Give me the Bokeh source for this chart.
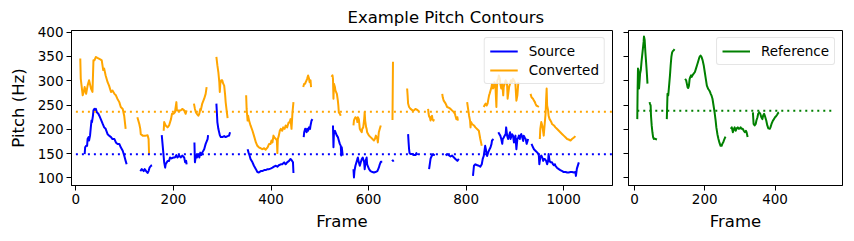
import numpy as np
from bokeh.plotting import figure
from bokeh.layouts import row
from bokeh.models import Range1d, FixedTicker, Legend, LegendItem
from bokeh.embed import file_html
from bokeh.resources import INLINE

# ---------------- data (frame index, pitch in Hz) ----------------
source_frames = [
    [18, 19, 21, 23, 24, 26, 27, 29, 31, 32, 33, 35, 36, 38, 39, 41, 43, 46, 48, 51, 55, 58, 61, 65, 68, 72, 75, 79, 82, 85, 89, 92, 96, 99, 102, 104],
    [132, 135, 139, 141, 144, 147, 149, 151, 154, 156],
    [176, 181, 183, 184, 188, 191, 193, 196, 200, 203, 206, 208, 212, 215, 218, 222, 224, 226, 227],
    [243, 244, 246, 248, 251, 253, 255, 257, 259, 263, 266, 270, 271],
    [288, 289, 290, 292, 295, 297, 300, 304, 307, 311, 314, 316],
    [352, 354, 356, 358, 362, 365, 369, 372, 375, 379, 382, 386, 389, 393, 396, 399, 403, 406, 410, 413, 416, 420, 423, 427, 430, 433, 437, 440, 442, 445, 446],
    [467, 468, 470, 471, 473, 474, 476, 478, 480, 481, 483, 485],
    [527, 528, 529, 531, 532, 535, 537, 539, 541, 543, 544, 545, 547],
    [569, 570, 571, 573, 576, 577, 578, 580, 582, 584, 586, 588, 591, 592, 594, 596, 597, 601, 604, 608, 611, 614, 618, 621, 623, 625, 628],
    [648, 650, 652],
    [681, 682, 683, 684, 686, 690, 693, 696, 698, 700],
    [724, 725, 726, 727, 728, 730, 732, 734, 735],
    [758, 761, 765, 768, 771, 775, 778, 782, 785],
    [814, 816, 819, 823, 826, 829, 832, 834, 836, 839, 841, 843, 845, 848, 850, 852, 853, 856],
    [866, 868, 870, 872, 874, 875, 877, 879, 881, 882, 884, 886, 888, 890, 891, 893, 894, 896, 898, 900, 901, 903, 905, 907, 908, 910, 911, 913, 915, 917, 918, 920, 922, 924, 925, 927],
    [934, 937, 939, 942, 946, 948, 949, 950, 952, 954, 956, 958, 959, 961, 964, 966, 968, 969, 971, 973, 976, 978, 980, 982, 983, 986, 990, 993, 997, 1000, 1004, 1007, 1010, 1014, 1017, 1021, 1024, 1025, 1027, 1031],
]
source_hz = [
    [149, 163, 166, 166, 180, 184, 177, 187, 208, 218, 215, 228, 239, 242, 239, 242, 235, 232, 228, 221, 211, 204, 201, 190, 187, 184, 180, 180, 173, 170, 170, 163, 156, 146, 135, 128],
    [114, 118, 114, 118, 114, 110, 114, 121, 125, 126],
    [188, 132, 121, 128, 135, 135, 142, 140, 142, 142, 147, 142, 146, 142, 146, 142, 132, 135, 128],
    [173, 132, 146, 142, 149, 142, 152, 147, 152, 159, 170, 180, 188],
    [253, 235, 215, 201, 188, 184, 184, 186, 184, 186, 187, 194],
    [159, 152, 146, 139, 132, 125, 118, 112, 111, 114, 114, 116, 116, 118, 118, 119, 121, 123, 125, 123, 126, 128, 128, 132, 128, 132, 135, 139, 137, 132, 110],
    [184, 194, 201, 197, 194, 201, 197, 204, 201, 208, 218, 221],
    [208, 163, 194, 197, 194, 187, 184, 177, 170, 166, 146, 163, 146],
    [118, 101, 114, 125, 135, 139, 142, 132, 125, 132, 139, 142, 132, 118, 135, 142, 128, 118, 114, 112, 111, 112, 114, 121, 128, 133, 133],
    [137, 135, 136],
    [190, 173, 159, 151, 149, 149, 147, 147, 151, 147],
    [118, 125, 132, 139, 142, 146, 149, 147, 149],
    [146, 149, 146, 144, 146, 142, 139, 135, 139],
    [104, 125, 128, 126, 125, 123, 128, 139, 145, 166, 156, 145, 152, 159, 163, 170, 177, 180],
    [194, 190, 187, 180, 170, 180, 183, 187, 190, 204, 187, 180, 187, 194, 180, 187, 190, 187, 173, 183, 187, 159, 180, 183, 187, 180, 187, 190, 183, 176, 187, 183, 180, 170, 173, 180],
    [170, 163, 159, 156, 152, 149, 146, 128, 142, 146, 142, 135, 139, 139, 135, 128, 135, 149, 135, 132, 132, 128, 126, 128, 125, 121, 118, 116, 114, 112, 112, 111, 111, 112, 112, 111, 112, 104, 119, 132],
]

converted_frames = [
    [9, 10, 14, 16, 18, 21, 24, 27, 31, 34, 36, 38, 41, 44, 50, 53, 56, 58, 61, 65, 68, 72, 75, 79, 82, 85, 89, 92, 96, 99, 102],
    [126, 130, 132, 133, 137, 143, 147, 149, 150],
    [180, 181, 184, 188, 191, 195, 197, 200, 203, 206, 207, 212, 215, 218, 222, 225, 227],
    [242, 244, 246, 248, 251, 253, 255, 256, 259, 263, 266, 268],
    [288, 290, 292, 294, 295, 296, 298, 300, 302, 304, 306, 307, 309, 311],
    [349, 350, 352, 353, 355, 358, 362, 365, 369, 372, 375, 379, 382, 386, 389, 393, 396, 399, 401, 403, 405, 407, 410, 412, 413, 414, 416, 418, 420, 423, 425, 428, 430, 433, 436, 438, 440, 442, 444, 446],
    [466, 468, 470, 471, 473, 474, 476, 478, 479, 481, 482],
    [524, 526, 527, 528, 529, 531, 532, 535, 537, 538, 539, 541, 543],
    [569, 570, 571, 573, 576, 577, 578, 580, 582, 584, 586, 587, 589, 591, 592, 593, 595, 596, 597, 601, 604, 608, 611, 613, 615, 618, 619, 621, 623, 625],
    [649, 650],
    [679, 680, 681, 683, 686, 690, 693, 696, 698, 701, 703],
    [722, 723, 724, 726, 727, 728, 730, 731, 733, 734],
    [751, 752, 754, 756, 758, 761, 765, 768, 771, 775, 777, 778, 780, 782, 783],
    [802, 804, 806, 808, 809, 810, 812, 816, 819, 826, 829, 832],
    [836, 838, 840, 842, 844, 845, 847, 848, 850, 852, 853, 855, 857, 858, 860, 862, 863, 864, 866, 867, 869, 870, 872, 874, 876, 877, 879, 881, 883, 884, 885, 888, 890, 892, 894, 896, 898, 901, 903, 905, 907],
    [932, 934, 937, 939, 941, 942, 944, 946, 949],
    [951, 952, 954, 956, 958, 959, 961, 963, 964, 965, 966, 968, 969, 971, 973, 975, 976, 980, 983, 986, 990, 993, 997, 1000, 1004, 1007, 1010, 1014, 1017, 1021, 1024],
]
converted_hz = [
    [346, 304, 270, 277, 287, 273, 290, 301, 284, 277, 342, 342, 349, 347, 344, 342, 322, 325, 311, 297, 290, 277, 280, 273, 270, 263, 256, 246, 242, 228, 201],
    [225, 211, 201, 190, 187, 187, 188, 180, 149],
    [197, 215, 208, 204, 208, 221, 232, 232, 235, 256, 239, 239, 239, 242, 239, 232, 239],
    [253, 242, 235, 232, 228, 232, 242, 239, 253, 263, 273, 287],
    [349, 332, 318, 297, 277, 294, 301, 301, 294, 290, 270, 256, 239, 223],
    [270, 242, 218, 228, 218, 208, 197, 187, 173, 166, 163, 161, 159, 161, 158, 163, 170, 170, 177, 173, 187, 183, 180, 177, 151, 180, 187, 197, 201, 197, 204, 201, 208, 204, 214, 214, 221, 201, 235, 256],
    [287, 294, 294, 297, 301, 304, 311, 304, 297, 301, 287],
    [308, 311, 304, 263, 294, 287, 280, 273, 259, 249, 235, 232, 228],
    [208, 218, 221, 225, 221, 215, 225, 221, 201, 197, 194, 201, 204, 221, 235, 218, 204, 201, 194, 187, 184, 180, 177, 180, 187, 180, 173, 194, 201, 208],
    [219, 339],
    [284, 270, 253, 246, 242, 239, 239, 242, 241, 239, 237],
    [242, 232, 227, 223, 218, 225, 228, 221, 218, 221],
    [273, 266, 259, 256, 253, 246, 244, 242, 239, 235, 232, 228, 221, 225, 218],
    [256, 242, 228, 218, 204, 215, 211, 208, 204, 197, 180, 166],
    [246, 250, 253, 249, 253, 259, 270, 273, 280, 287, 294, 284, 287, 297, 290, 246, 284, 301, 304, 311, 304, 294, 284, 294, 270, 287, 294, 301, 297, 290, 263, 287, 294, 301, 297, 304, 301, 294, 259, 270, 297],
    [273, 266, 263, 259, 256, 253, 249, 248, 246],
    [180, 201, 215, 208, 194, 187, 211, 235, 263, 284, 249, 239, 228, 221, 218, 214, 211, 208, 204, 201, 197, 194, 190, 187, 183, 180, 179, 177, 180, 183, 186],
]

reference_frames = [
    [8, 9, 10, 11, 13, 15, 16, 18, 20, 22, 24, 26, 27, 29, 31, 33, 35, 37],
    [43, 44, 46, 47, 49, 51, 53, 55, 57, 60, 64],
    [92, 94, 96, 97, 99, 101, 103, 105, 107, 109, 112, 114],
    [144, 147, 149, 151, 153, 155, 157, 159, 161, 163, 165, 168, 172, 175, 178, 181, 185, 188, 191, 194, 197, 200, 203, 206, 210, 213, 215, 217, 219, 222, 225, 228, 231, 233, 236, 239, 242, 245, 248, 250, 253, 256, 259],
    [274, 277, 280, 283, 285, 288, 291, 294, 297, 300, 302, 305, 308, 311, 314, 317, 319, 322],
    [337, 339, 342, 345, 347, 350, 352, 355, 358, 361, 364, 366, 369, 371, 375, 378, 381, 385, 387, 390, 394, 397, 400, 403, 406, 409, 411],
]
reference_hz = [
    [221, 284, 325, 322, 284, 304, 315, 322, 339, 353, 366, 380, 391, 384, 359, 339, 318, 294],
    [256, 253, 249, 228, 208, 194, 184, 180, 181, 180, 179],
    [221, 273, 270, 277, 294, 311, 332, 349, 358, 361, 363, 365],
    [304, 301, 294, 287, 285, 290, 304, 308, 311, 308, 311, 314, 318, 325, 332, 339, 349, 352, 349, 342, 332, 318, 304, 290, 283, 280, 277, 273, 270, 263, 249, 235, 218, 204, 190, 180, 172, 166, 166, 170, 174, 180, 185],
    [201, 204, 194, 201, 204, 197, 202, 204, 201, 202, 204, 201, 201, 197, 194, 197, 194, 184],
    [235, 211, 208, 211, 218, 225, 232, 235, 232, 225, 221, 228, 232, 228, 218, 208, 202, 201, 204, 211, 218, 221, 225, 227, 230, 234, 235],
]

source_mean = 148.4
converted_mean = 236.0
reference_mean = 238.3
left_mean_span = [0, 1100]
right_mean_span = [8, 561]

y_ticks = [100, 150, 200, 250, 300, 350, 400]
left_x_ticks = [0, 200, 400, 600, 800, 1000]
right_x_ticks = [0, 200, 400]


def join(frames, values):
    xs, ys = [], []
    for f, v in zip(frames, values):
        xs += list(f) + [np.nan]
        ys += list(v) + [np.nan]
    return np.array(xs, dtype=float), np.array(ys, dtype=float)


FONT = "DejaVu Sans"
TICK_SIZE = "13.5px"
LABEL_SIZE = "16.5px"
LW = 2

y_range = Range1d(84.3, 403.5)

p1 = figure(width=620, height=233, x_range=Range1d(-9, 1100), y_range=y_range,
            output_backend="svg", toolbar_location=None,
            min_border_left=71, min_border_right=8, min_border_top=30, min_border_bottom=48)
p2 = figure(width=226, height=233, x_range=Range1d(-17, 592), y_range=y_range,
            output_backend="svg", toolbar_location=None,
            min_border_left=8, min_border_right=4, min_border_top=30, min_border_bottom=48)


def style(p, xticks):
    p.xgrid.visible = False
    p.ygrid.visible = False
    p.outline_line_color = "black"
    p.outline_line_alpha = 1
    p.outline_line_width = 1
    p.background_fill_color = "white"
    p.border_fill_color = "white"
    p.xaxis.ticker = FixedTicker(ticks=xticks)
    p.yaxis.ticker = FixedTicker(ticks=y_ticks)
    for ax in (p.xaxis[0], p.yaxis[0]):
        ax.axis_line_color = "black"
        ax.major_tick_line_color = "black"
        ax.minor_tick_line_color = None
        ax.major_tick_out = 5
        ax.major_tick_in = 0
        ax.major_label_text_font = FONT
        ax.major_label_text_font_size = TICK_SIZE
        ax.major_label_text_color = "black"
        ax.major_label_standoff = 3
        ax.axis_label_text_font = FONT
        ax.axis_label_text_font_size = LABEL_SIZE
        ax.axis_label_text_font_style = "normal"
        ax.axis_label_text_color = "black"
    p.xaxis.axis_label = "Frame"
    p.xaxis.axis_label_standoff = 5


style(p1, left_x_ticks)
style(p2, right_x_ticks)
p1.yaxis.axis_label = "Pitch (Hz)"
p1.yaxis.axis_label_standoff = 7
# shared y axis: ticks only, no labels on the right panel
p2.yaxis.major_label_overrides = {t: "" for t in y_ticks}
p2.yaxis.major_label_standoff = 0

sx, sy = join(source_frames, source_hz)
cx, cy = join(converted_frames, converted_hz)
rx, ry = join(reference_frames, reference_hz)

r_src = p1.line(sx, sy, line_color="blue", line_width=LW, line_join="round")
r_conv = p1.line(cx, cy, line_color="orange", line_width=LW, line_join="round")
p1.line(left_mean_span, [source_mean, source_mean], line_color="blue", line_width=LW, line_dash="2 4")
p1.line(left_mean_span, [converted_mean, converted_mean], line_color="orange", line_width=LW, line_dash="2 4")

r_ref = p2.line(rx, ry, line_color="green", line_width=LW, line_join="round")
p2.line(right_mean_span, [reference_mean, reference_mean], line_color="green", line_width=LW, line_dash="2 4")


def make_legend(items):
    lg = Legend(items=items, location="top_right")
    lg.label_text_font = FONT
    lg.label_text_font_size = TICK_SIZE
    lg.label_text_color = "black"
    lg.glyph_width = 28
    lg.glyph_height = 16
    lg.label_height = 16
    lg.label_standoff = 11
    lg.spacing = 3
    lg.padding = 5
    lg.margin = 7
    lg.border_line_color = "#cccccc"
    lg.border_line_width = 1
    lg.background_fill_alpha = 0.8
    if "border_radius" in Legend.properties():
        lg.border_radius = 3
    return lg


p1.add_layout(make_legend([LegendItem(label="Source", renderers=[r_src]),
                           LegendItem(label="Converted", renderers=[r_conv])]))
p2.add_layout(make_legend([LegendItem(label="Reference", renderers=[r_ref])]))

p1.title.text = "Example Pitch Contours"
p1.title.align = "left"
p1.title.offset = 276
p1.title.text_font = FONT
p1.title.text_font_size = LABEL_SIZE
p1.title.text_font_style = "normal"
p1.title.text_color = "black"
p1.title.standoff = 7

layout = row(p1, p2)
open("out.html", "w").write(file_html(layout, INLINE))
